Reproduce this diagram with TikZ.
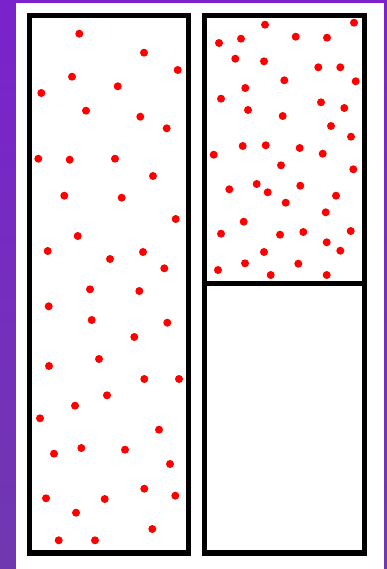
\documentclass[tikz,border=0pt]{standalone}
\begin{document}
\begin{tikzpicture}[x=1pt,y=-1pt,line cap=round,line join=round]
\useasboundingbox (0,0) rectangle (387,569);
\definecolor{bgtop}{RGB}{122,34,204}
\definecolor{bgbot}{RGB}{112,56,176}
\shade[top color=bgtop,bottom color=bgbot] (0,0) rectangle (387,569);
\fill[white] (16,3) rectangle (384,569);
\begin{scope}
\draw[line width=5.5pt,line cap=butt,line join=miter] (29.5,15.3) rectangle (188.5,553);
\fill[red] (79.3,33.7) circle (4);
\fill[red] (144.0,52.7) circle (4);
\fill[red] (177.7,70.0) circle (4);
\fill[red] (72.0,76.7) circle (4);
\fill[red] (117.7,86.3) circle (4);
\fill[red] (41.3,93.0) circle (4);
\fill[red] (86.0,110.7) circle (4);
\fill[red] (140.3,116.7) circle (4);
\fill[red] (166.7,128.3) circle (4);
\fill[red] (38.3,158.7) circle (4);
\fill[red] (69.7,159.7) circle (4);
\fill[red] (115.0,158.7) circle (4);
\fill[red] (153.0,176.0) circle (4);
\fill[red] (64.3,195.7) circle (4);
\fill[red] (121.7,197.7) circle (4);
\fill[red] (175.7,219.0) circle (4);
\fill[red] (77.7,236.0) circle (4);
\fill[red] (47.7,251.0) circle (4);
\fill[red] (110.0,259.0) circle (4);
\fill[red] (143.0,252.0) circle (4);
\fill[red] (164.3,268.3) circle (4);
\fill[red] (90.0,289.3) circle (4);
\fill[red] (139.3,291.0) circle (4);
\fill[red] (48.7,306.3) circle (4);
\fill[red] (91.7,320.0) circle (4);
\fill[red] (167.3,322.7) circle (4);
\fill[red] (134.3,337.0) circle (4);
\fill[red] (99.0,359.0) circle (4);
\fill[red] (49.0,366.0) circle (4);
\fill[red] (144.3,379.0) circle (4);
\fill[red] (179.0,379.0) circle (4);
\fill[red] (107.0,395.3) circle (4);
\fill[red] (75.0,405.7) circle (4);
\fill[red] (40.0,418.3) circle (4);
\fill[red] (159.0,429.7) circle (4);
\fill[red] (54.0,453.7) circle (4);
\fill[red] (81.3,448.0) circle (4);
\fill[red] (125.0,449.7) circle (4);
\fill[red] (170.0,464.0) circle (4);
\fill[red] (46.0,498.3) circle (4);
\fill[red] (104.7,499.0) circle (4);
\fill[red] (144.3,488.7) circle (4);
\fill[red] (175.3,495.7) circle (4);
\fill[red] (76.0,512.7) circle (4);
\fill[red] (152.3,529.0) circle (4);
\fill[red] (58.7,540.3) circle (4);
\fill[red] (95.0,540.3) circle (4);
\end{scope}
\begin{scope}
\draw[line width=5.5pt,line cap=butt,line join=miter] (204.7,15.3) rectangle (364.7,553);
\draw[line width=5.5pt,line cap=butt] (204.7,283.5) -- (364.7,283.5);
\fill[red] (265.0,24.7) circle (4);
\fill[red] (354.0,22.7) circle (4);
\fill[red] (219.0,43.0) circle (4);
\fill[red] (241.0,38.7) circle (4);
\fill[red] (295.7,36.7) circle (4);
\fill[red] (327.0,37.7) circle (4);
\fill[red] (235.3,58.7) circle (4);
\fill[red] (264.0,61.3) circle (4);
\fill[red] (318.3,67.3) circle (4);
\fill[red] (340.3,67.3) circle (4);
\fill[red] (284.3,80.3) circle (4);
\fill[red] (355.7,81.3) circle (4);
\fill[red] (245.3,88.0) circle (4);
\fill[red] (221.0,98.7) circle (4);
\fill[red] (321.0,102.3) circle (4);
\fill[red] (344.3,108.0) circle (4);
\fill[red] (248.0,110.0) circle (4);
\fill[red] (282.7,116.0) circle (4);
\fill[red] (331.0,126.0) circle (4);
\fill[red] (351.0,136.7) circle (4);
\fill[red] (242.7,146.0) circle (4);
\fill[red] (265.7,145.3) circle (4);
\fill[red] (299.7,148.0) circle (4);
\fill[red] (322.7,153.7) circle (4);
\fill[red] (213.7,154.7) circle (4);
\fill[red] (281.0,165.3) circle (4);
\fill[red] (353.3,169.3) circle (4);
\fill[red] (229.3,189.3) circle (4);
\fill[red] (256.7,184.0) circle (4);
\fill[red] (300.3,185.7) circle (4);
\fill[red] (267.7,192.3) circle (4);
\fill[red] (336.0,195.7) circle (4);
\fill[red] (285.7,202.7) circle (4);
\fill[red] (325.7,212.3) circle (4);
\fill[red] (243.7,221.7) circle (4);
\fill[red] (221.0,233.7) circle (4);
\fill[red] (280.0,234.7) circle (4);
\fill[red] (303.3,232.0) circle (4);
\fill[red] (350.7,231.0) circle (4);
\fill[red] (326.7,242.3) circle (4);
\fill[red] (340.3,250.7) circle (4);
\fill[red] (264.0,252.0) circle (4);
\fill[red] (245.0,263.3) circle (4);
\fill[red] (298.3,263.7) circle (4);
\fill[red] (218.0,270.0) circle (4);
\fill[red] (270.7,275.0) circle (4);
\fill[red] (326.7,275.0) circle (4);
\end{scope}
\end{tikzpicture}
\end{document}
